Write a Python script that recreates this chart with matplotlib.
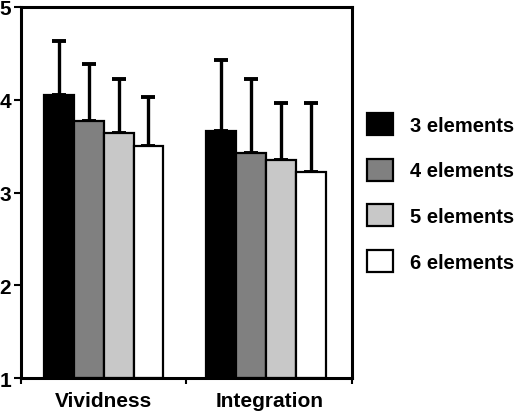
import matplotlib
matplotlib.use("Agg")
import matplotlib.pyplot as plt
import numpy as np

categories = ["Vividness", "Integration"]
series = ["3 elements", "4 elements", "5 elements", "6 elements"]
colors = ["#000000", "#808080", "#c8c8c8", "#ffffff"]
means = {
    "3 elements": [4.05, 3.66],
    "4 elements": [3.77, 3.43],
    "5 elements": [3.64, 3.35],
    "6 elements": [3.50, 3.22],
}
errors = {
    "3 elements": [0.58, 0.77],
    "4 elements": [0.61, 0.79],
    "5 elements": [0.58, 0.61],
    "6 elements": [0.53, 0.74],
}
yticks = [1, 2, 3, 4, 5]

plt.rcParams['font.family'] = ['Liberation Sans', 'DejaVu Sans']
plt.rcParams['font.weight'] = 'bold'

fig = plt.figure(figsize=(5.21, 4.14), dpi=100)
ax = fig.add_axes([0.0403, 0.0845, 0.6353, 0.8962])

x = np.arange(len(categories))
w = 0.18
offsets = (np.arange(len(series)) - 1.5) * w
shift = np.array([0, 0.02])
handles = []
for i, s in enumerate(series):
    bars = ax.bar(x + offsets[i] - shift, np.array(means[s]) - 1, w, bottom=1,
                  color=colors[i], edgecolor="black", linewidth=1.6, label=s, zorder=2)
    ax.errorbar(x + offsets[i] - shift, means[s], yerr=[np.zeros(2), errors[s]],
                fmt="none", ecolor="black", elinewidth=2.4, capsize=5, capthick=2.8, zorder=1)
    handles.append(bars)

ax.set_xlim(-0.5, 1.5)
ax.set_ylim(1, 5)
ax.set_yticks(yticks)
ax.set_yticklabels([str(t) for t in yticks], fontsize=15, fontweight='bold')
ax.set_xticks([-0.5, 0.5, 1.5])
ax.set_xticklabels([])
ax.set_xticks(x, minor=True)
ax.set_xticklabels(categories, minor=True, fontsize=15, fontweight='bold')
ax.tick_params(axis='x', which='minor', length=0, pad=9)
ax.tick_params(axis='x', which='major', length=4, width=1.5, direction='out')
ax.tick_params(axis='y', length=5, width=1.5, direction='out', pad=2)
for sp in ax.spines.values():
    sp.set_linewidth(2.2)

leg = ax.legend(handles=handles, labels=series, loc='center left',
                bbox_to_anchor=(0.99, 0.5), frameon=False,
                handlelength=1.3, handleheight=1.3, labelspacing=1.17,
                handletextpad=0.85, prop={'weight': 'bold', 'size': 14.5})

fig.savefig("out.png", dpi=100)
